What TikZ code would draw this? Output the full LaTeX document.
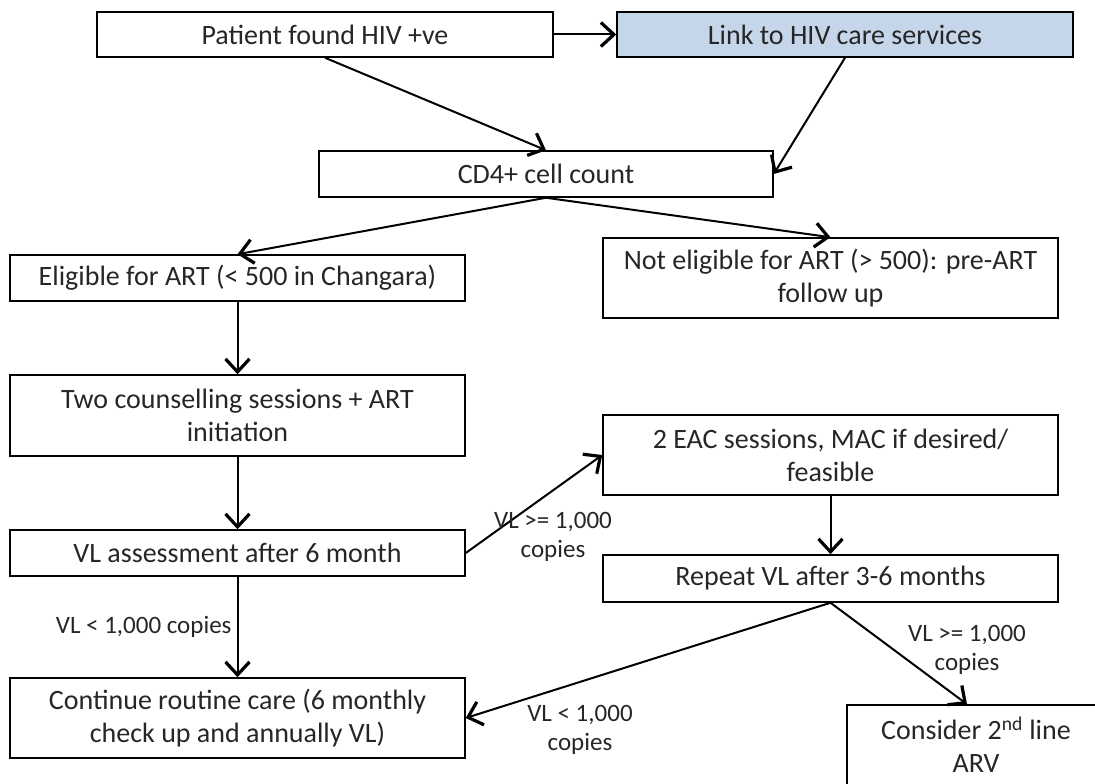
\documentclass[tikz,border=0pt]{standalone}
\usepackage{fontspec}
\setmainfont{Carlito}
\usepackage{tikz}
\usetikzlibrary{arrows.meta,positioning}

\definecolor{linkblue}{RGB}{197,214,234}

\begin{document}
\begin{tikzpicture}[x=1pt, y=-1pt,
        box/.style={draw, line width=1.5pt, align=center, inner sep=0pt,
                    text=black!85, font=\fontsize{28}{33}\selectfont},
        lbl/.style={align=center, text=black!85, font=\fontsize{25}{29}\selectfont},
        >={Straight Barb[length=13pt,width=24pt,line width=3.2pt]}]
        \useasboundingbox (0,0) rectangle (1095,784);
        \clip (0,0) rectangle (1095,784);

        \node[box, minimum width=456, minimum height=45] (patient) at (325,34.5) {Patient found HIV +ve};
        \node[box, fill=linkblue, minimum width=456, minimum height=45] (link) at (845,34.5) {Link to HIV care services};

        \node[box, minimum width=454, minimum height=46] (cd4) at (546,174) {CD4+ cell count};

        \node[box, minimum width=455, minimum height=46] (elig) at (237.5,278) {Eligible for ART (< 500 in Changara)};
        \node[box, minimum width=455, minimum height=80] (noelig) at (830.5,278) {Not eligible for ART (> 500): pre-ART\\follow up};

        \node[box, minimum width=455, minimum height=81] (counsel) at (237.5,415.5) {Two counselling sessions + ART\\initiation};
        \node[box, minimum width=455, minimum height=46] (vlassess) at (237.5,553) {VL assessment after 6 month};
        \node[box, minimum width=455, minimum height=80] (routine) at (237.5,718) {Continue routine care (6 monthly\\check up and annually VL)};

        \node[box, minimum width=455, minimum height=80] (eac) at (830.5,455) {2 EAC sessions, MAC if desired/\\feasible};
        \node[box, minimum width=455, minimum height=47] (repeat) at (830.5,578.5) {Repeat VL after 3-6 months};
        \node[box, minimum width=258, minimum height=80] (second) at (976,745) {Consider 2\textsuperscript{nd} line\\ARV};

        \draw[->, line width=2pt] (patient) to (link);
        \draw[->, line width=2pt] (patient.south) to (cd4.north);
        \draw[->, line width=2pt] (link.south) to (cd4.east);

        \draw[->, line width=2pt] (cd4.south) to (elig.north);
        \draw[->, line width=2pt] (cd4.south) to (noelig.north);

        \draw[->, line width=2pt] (elig) to (counsel);
        \draw[->, line width=2pt] (counsel) to (vlassess);
        \draw[->, line width=2pt] (vlassess) to node[lbl, left, inner sep=5pt]{VL < 1,000 copies} (routine);

        \draw[->, line width=2pt] (vlassess.east) to (eac.west);
        \node[lbl] (highA) at (553,537) {VL >= 1,000\\copies};

        \draw[->, line width=2pt] (eac) to (repeat);
        \draw[->, line width=2pt] (repeat.south) to (routine.east);
        \node[lbl] (lowB) at (580,730) {VL < 1,000\\copies};
        \draw[->, line width=2pt] (repeat.south) to ([xshift=-9pt]second.north);
        \node[lbl] (highB) at (967,650) {VL >= 1,000\\copies};
    \end{tikzpicture}
\end{document}
